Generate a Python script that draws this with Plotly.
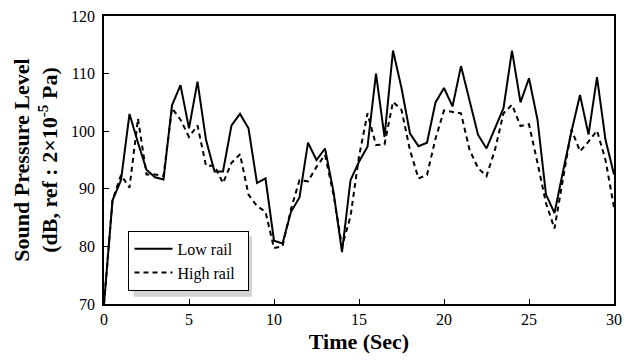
import plotly.graph_objects as go

time_sec = [0, 0.5, 1, 1.5, 2, 2.5, 3, 3.5, 4, 4.5, 5, 5.5, 6, 6.5, 7, 7.5, 8, 8.5, 9, 9.5,
            10, 10.5, 11, 11.5, 12, 12.5, 13, 13.5, 14, 14.5, 15, 15.5, 16, 16.5, 17, 17.5,
            18, 18.5, 19, 19.5, 20, 20.5, 21, 21.5, 22, 22.5, 23, 23.5, 24, 24.5, 25, 25.5,
            26, 26.5, 27, 27.5, 28, 28.5, 29, 29.5, 30]

low_rail = [70, 88, 91.5, 103, 98, 93.3, 92, 91.6, 104.5, 108, 100.5, 108.6, 98.5, 93, 93,
            101, 103, 100.5, 91, 91.8, 81, 80.5, 86, 88.5, 98, 95, 97, 89.5, 79, 91.5,
            94.7, 97.3, 110, 99, 114, 107.5, 99.6, 97.4, 98, 105, 107.5, 104.3, 111.3, 105.5,
            99.4, 97, 100.5, 104, 114, 105, 109.2, 102, 89, 85.8, 93, 100, 106.3, 99.4,
            109.4, 98.5, 92.5]

high_rail = [70, 88, 92.4, 90.2, 102.2, 92.5, 92.5, 92.2, 104, 102, 99, 101, 94, 94, 91,
             94.5, 96, 89, 87, 86, 79.7, 80, 86.5, 91.5, 91.3, 93.8, 95.9, 89, 80, 85.2,
             95.6, 103.1, 97.6, 97.7, 105.1, 103.7, 96.7, 91.8, 92.4, 98.7, 103.6, 103.4,
             103.1, 96.8, 93.6, 92.2, 96.8, 103.1, 104.6, 100.9, 101.2, 94.5, 87.5, 83.1,
             91.5, 100.3, 96.5, 98.2, 100.1, 95, 86.8]

x_ticks = [0, 5, 10, 15, 20, 25, 30]
y_ticks = [70, 80, 90, 100, 110, 120]

FONT = "Times New Roman, Liberation Serif, serif"
PAD = "\u00a0\u00a0"

fig = go.Figure()
fig.add_trace(go.Scatter(x=time_sec, y=low_rail, mode="lines", name="Low rail" + PAD,
                         line=dict(color="black", width=2)))
fig.add_trace(go.Scatter(x=time_sec, y=high_rail, mode="lines", name="High rail" + PAD,
                         line=dict(color="black", width=2, dash="5px,4px")))

# legend drop shadow
fig.add_shape(type="rect", xref="paper", yref="paper",
              x0=0.058, x1=0.29, y0=0.025, y1=0.235,
              fillcolor="rgba(140,140,140,0.4)", line=dict(width=0), layer="below")

# y-axis title (two lines)
fig.add_annotation(xref="paper", yref="paper", x=-0.134, y=0.5,
                   xanchor="center", yanchor="middle", textangle=-90, showarrow=False,
                   text="<b>Sound Pressure Level<br>(dB, ref : 2×10<sup>-5</sup> Pa)</b>",
                   font=dict(family=FONT, size=22, color="black"))

fig.update_layout(
    width=630, height=360,
    margin=dict(l=104, r=8, t=16, b=56),
    paper_bgcolor="white", plot_bgcolor="white",
    font=dict(family=FONT, color="black", size=16),
    showlegend=True,
    legend=dict(x=0.048, y=0.254, xanchor="left", yanchor="top",
                bgcolor="white", bordercolor="black", borderwidth=1,
                font=dict(family=FONT, size=16, color="black"),
                itemwidth=38),
    xaxis=dict(range=[0, 30], tickvals=x_ticks, ticks="inside", ticklen=5,
               tickcolor="black", showline=True, linecolor="black", linewidth=1.5,
               mirror=True, showgrid=False, zeroline=False,
               tickfont=dict(family=FONT, size=16),
               title=dict(text="<b>Time (Sec)</b>", font=dict(family=FONT, size=22),
                          standoff=7)),
    yaxis=dict(range=[70, 120], tickvals=y_ticks, ticks="inside", ticklen=5,
               tickcolor="black", showline=True, linecolor="black", linewidth=1.5,
               mirror=True, showgrid=False, zeroline=False,
               ticklabelstandoff=4,
               tickfont=dict(family=FONT, size=16)),
)

fig.write_html("out.html")
